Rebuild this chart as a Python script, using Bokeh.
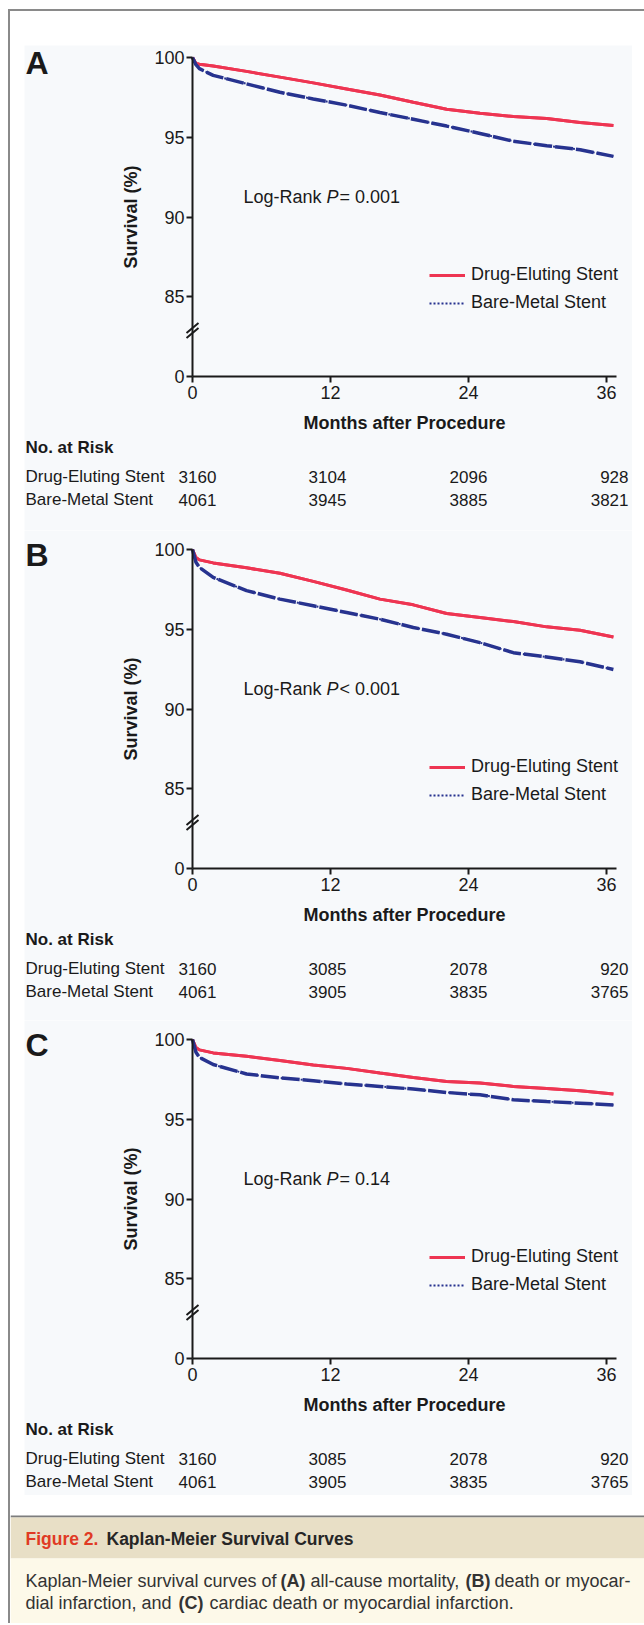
from bokeh.plotting import figure
from bokeh.models import (Range1d, FixedTicker, Label, Legend, LegendItem, Arrow,
                          BoxAnnotation, Div, Spacer)
from bokeh.layouts import column, row
from bokeh.embed import file_html
from bokeh.resources import INLINE

# ---------------- data ----------------
months = [0, 0.3, 0.6, 1.8, 4.7, 7.6, 10.5, 13.4, 16.3, 19.2, 22.1, 25.0, 27.9, 30.8, 33.7, 36.6]

des_a = [100, 99.62, 99.58, 99.47, 99.13, 98.77, 98.41, 98.03, 97.65, 97.19, 96.76, 96.51, 96.30, 96.17, 95.92, 95.74]
bms_a = [100, 99.55, 99.30, 98.88, 98.35, 97.82, 97.40, 97.01, 96.55, 96.13, 95.70, 95.24, 94.75, 94.47, 94.22, 93.80]

des_b = [100, 99.50, 99.35, 99.16, 98.85, 98.51, 98.00, 97.46, 96.89, 96.53, 95.99, 95.74, 95.48, 95.15, 94.94, 94.52]
bms_b = [100, 99.20, 98.88, 98.25, 97.42, 96.89, 96.47, 96.05, 95.63, 95.11, 94.69, 94.16, 93.53, 93.26, 92.96, 92.48]

des_c = [100, 99.50, 99.35, 99.16, 98.95, 98.68, 98.40, 98.19, 97.90, 97.62, 97.37, 97.27, 97.06, 96.93, 96.79, 96.58]
bms_c = [100, 99.20, 98.88, 98.43, 97.84, 97.59, 97.42, 97.21, 97.06, 96.89, 96.68, 96.53, 96.22, 96.11, 96.01, 95.90]

x_ticks = [0, 12, 24, 36]
y_ticks = [80, 85, 90, 95, 100]
y_tick_labels = ["0", "85", "90", "95", "100"]

series_names = ["Drug-Eluting Stent", "Bare-Metal Stent"]
panel_letters = ["A", "B", "C"]
p_values = ["= 0.001", "< 0.001", "= 0.14"]

risk_des_a = [3160, 3104, 2096, 928]
risk_bms_a = [4061, 3945, 3885, 3821]
risk_des_b = [3160, 3085, 2078, 920]
risk_bms_b = [4061, 3905, 3835, 3765]
risk_des_c = [3160, 3085, 2078, 920]
risk_bms_c = [4061, 3905, 3835, 3765]

# ---------------- style / geometry ----------------
FONT = "Liberation Sans"
TXT = "#1a1a1a"
RED = "#ee3552"
BLUE = "#27338f"
BG = "#f7f9fb"
GRAY = "#8a8a8a"

PANEL_W = 608          # panel spans page x 24 .. 632
AXIS_X = 168           # y axis sits 168 px right of the panel's left edge
X_END = 36.87          # end of the x axis line
FRAME_W = 424          # length of x axis (0 .. X_END)
AXIS_H = 319           # length of y axis (80 .. 100)
XPX = FRAME_W / X_END
YPX = AXIS_H / 20.0


def X(px):      # px to the right of the y axis -> months
    return px / XPX


def YT(px):     # px below the 100 line
    return 100 - px / YPX


def YB(px):     # px below the x axis
    return 80 - px / YPX


def lab(p, x, y, text, size="18px", style="normal", align="left", baseline="middle",
        x_offset=0, color=TXT):
    p.add_layout(Label(x=x, y=y, text=text, x_offset=x_offset, text_font=FONT,
                       text_font_size=size, text_font_style=style, text_align=align,
                       text_baseline=baseline, text_color=color))


def panel(letter, des, bms, pval, r_des, r_bms, top, bottom):
    # top: px from panel top to the 100 line; bottom: px from the x axis to panel bottom
    h = top + AXIS_H + bottom
    p = figure(width=PANEL_W, height=h,
               x_range=Range1d(X(-AXIS_X), X(PANEL_W - AXIS_X)),
               y_range=Range1d(YB(bottom), YT(-top)),
               output_backend="svg", toolbar_location=None,
               min_border_left=0, min_border_right=0, min_border_top=0, min_border_bottom=0,
               background_fill_color=BG, border_fill_color=BG, outline_line_color=None)
    p.grid.visible = False

    for ax in (p.xaxis[0], p.yaxis[0]):
        ax.axis_line_width = 2
        ax.axis_line_color = TXT
        ax.major_tick_line_width = 2
        ax.major_tick_line_color = TXT
        ax.major_tick_out = 6
        ax.major_tick_in = 0
        ax.minor_tick_line_color = None
        ax.major_label_text_font = FONT
        ax.major_label_text_font_size = "18px"
        ax.major_label_text_color = TXT
        ax.axis_label_text_font = FONT
        ax.axis_label_text_font_size = "18px"
        ax.axis_label_text_font_style = "bold"
        ax.axis_label_text_color = TXT

    p.xaxis.ticker = FixedTicker(ticks=x_ticks)
    p.xaxis.fixed_location = 80
    p.xaxis.bounds = (0, X_END)
    p.xaxis.major_label_standoff = 3
    p.xaxis.axis_label = "Months after Procedure"
    p.xaxis.axis_label_standoff = 11

    p.yaxis.ticker = FixedTicker(ticks=y_ticks)
    p.yaxis.fixed_location = 0
    p.yaxis.bounds = (80, 100)
    p.yaxis.major_label_overrides = {t: s for t, s in zip(y_ticks, y_tick_labels)}
    p.yaxis.major_label_standoff = 2
    p.yaxis.axis_label = "Survival (%)"
    p.yaxis.axis_label_standoff = 10

    # legend swatches (styled as in the reference legend), drawn beneath the curves
    l1 = p.line(months, des, line_color=RED, line_width=3)
    l2 = p.line(months, bms, line_color=BLUE, line_width=2, line_dash="2 2")

    p.line(months, des, line_color=RED, line_width=3)
    p.line(months, bms, line_color=BLUE, line_width=3.5, line_dash="18 3")

    legend = Legend(items=[LegendItem(label=series_names[0], renderers=[l1]),
                           LegendItem(label=series_names[1], renderers=[l2])],
                    location=(AXIS_X + 237, bottom + 63), padding=0, margin=0, spacing=7,
                    glyph_width=36, glyph_height=20, label_height=20, label_standoff=6,
                    border_line_color=None, background_fill_alpha=0,
                    label_text_font=FONT, label_text_font_size="18px",
                    label_text_color=TXT)
    p.add_layout(legend)

    # axis break marks
    for c in (270.5, 275.5):
        p.add_layout(Arrow(end=None, x_start=X(-6), y_start=YT(c + 5),
                           x_end=X(6), y_end=YT(c - 5),
                           line_width=2, line_color=TXT))

    # panel letter
    lab(p, X(25 - 192), YT(5), letter, size="32px", style="bold")

    # log-rank text
    lab(p, X(51), YT(139.5), "Log-Rank")
    lab(p, X(51), YT(139.5), "P", style="italic", x_offset=83)
    lab(p, X(51), YT(139.5), pval, x_offset=96)

    # numbers at risk
    lab(p, X(25 - 192), YB(71), "No. at Risk", size="17px", style="bold")
    col_off = [5, -3, 0, 22]
    col_align = ["center", "center", "center", "right"]
    for name, vals, yy in ((series_names[0], r_des, YB(100)), (series_names[1], r_bms, YB(123))):
        lab(p, X(25 - 192), yy, name, size="17px")
        for i, (t, v) in enumerate(zip(x_ticks, vals)):
            lab(p, t, yy, str(v), size="17px", align=col_align[i], x_offset=col_off[i])
    return p


pA = panel(panel_letters[0], des_a, bms_a, p_values[0], risk_des_a, risk_bms_a, 12, 154)
pB = panel(panel_letters[1], des_b, bms_b, p_values[1], risk_des_b, risk_bms_b, 19, 152)
pC = panel(panel_letters[2], des_c, bms_c, p_values[2], risk_des_c, risk_bms_c, 19, 137)

# ---------------- caption ----------------
CAP_W, CAP_H = 634, 128
cap = figure(width=CAP_W, height=CAP_H, x_range=Range1d(0, CAP_W), y_range=Range1d(2, CAP_H + 2),
             output_backend="svg", toolbar_location=None, min_border=0,
             x_axis_location=None, y_axis_location=None, outline_line_color=None,
             background_fill_color="white", border_fill_color="white")
cap.grid.visible = False
cap.add_layout(BoxAnnotation(left=0, right=CAP_W, bottom=108, top=110, fill_color="#7d7d7d",
                             fill_alpha=1, line_color=None, level="underlay"))
cap.add_layout(BoxAnnotation(left=0, right=CAP_W, bottom=67, top=108, fill_color="#e8dfc6",
                             fill_alpha=1, line_color=None, level="underlay"))
cap.add_layout(BoxAnnotation(left=0, right=CAP_W, bottom=2, top=67, fill_color="#fdf9e9",
                             fill_alpha=1, line_color=None, level="underlay"))

lab(cap, 15, 87, "Figure 2.", size="17.5px", style="bold", color="#e03a24")
lab(cap, 96, 87, "Kaplan-Meier Survival Curves", size="17.5px", style="bold", color="#262626")

cap_line1 = [("Kaplan-Meier survival curves of", "normal", 15), ("(A)", "bold", 270),
             ("all-cause mortality,", "normal", 300), ("(B)", "bold", 455),
             ("death or myocar-", "normal", 484)]
cap_line2 = [("dial infarction, and", "normal", 15), ("(C)", "bold", 168),
             ("cardiac death or myocardial infarction.", "normal", 199)]
for txt, st, xx in cap_line1:
    lab(cap, xx, 45, txt, size="18px", style=st, color="#333333")
for txt, st, xx in cap_line2:
    lab(cap, xx, 23, txt, size="18px", style=st, color="#333333")

# ---------------- page frame ----------------
top_line = Div(text="", width=636, height=2, margin=0, styles={"background-color": GRAY})
left_line = Div(text="", width=2, height=1612, margin=0, styles={"background-color": GRAY})
inner = column(Spacer(width=CAP_W, height=34),
               row(Spacer(width=14, height=1450), column(pA, pB, pC)),
               cap)
root = column(Spacer(width=644, height=9),
              row(Spacer(width=8, height=1614), column(top_line, row(left_line, inner))))

open("out.html", "w").write(file_html(root, INLINE))
